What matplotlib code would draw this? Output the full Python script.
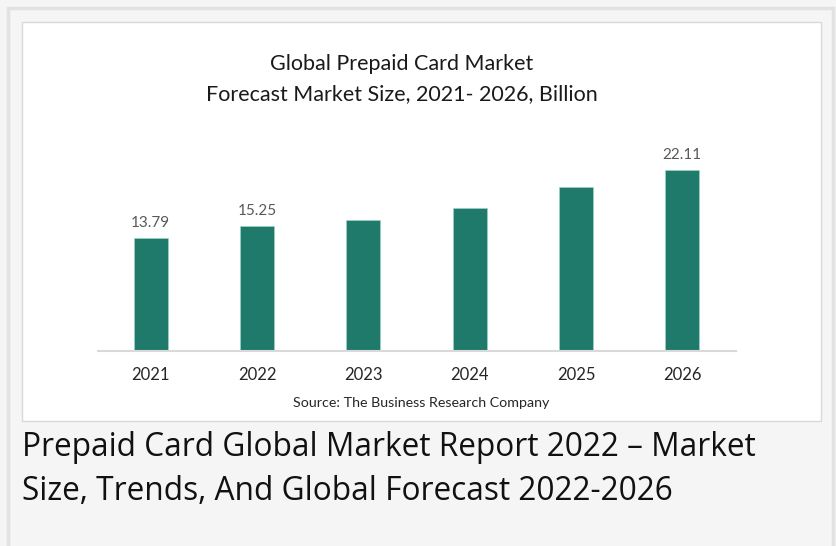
import matplotlib.pyplot as plt
from matplotlib.patches import Rectangle

# 数据
years = ['2021', '2022', '2023', '2024', '2025', '2026']
market_size = [13.79, 15.25, 15.95, 17.4, 20.05, 22.11]
shown_labels = ['13.79', '15.25', '', '', '', '22.11']

W, H = 836, 546
fig = plt.figure(figsize=(W / 100, H / 100), dpi=100)
fig.patch.set_facecolor('#f5f5f5')

# 外框和白色图表区域
fig.add_artist(Rectangle((8 / W, -0.01), (833 - 8) / W, 1 - 8 / H + 0.01,
                         transform=fig.transFigure, facecolor='none',
                         edgecolor='#e2e2e2', linewidth=2.5, zorder=-2))
fig.add_artist(Rectangle((22 / W, (H - 421) / H), (821 - 22) / W, (421 - 22) / H,
                         transform=fig.transFigure, facecolor='white',
                         edgecolor='#d9d9d9', linewidth=1, zorder=-1))

# 柱状图
px_per_unit = 8.17
ymax = 24.5
ax_left, ax_right, base_y = 97.6, 735.5, 350.6
ax = fig.add_axes([ax_left / W, (H - base_y) / H, (ax_right - ax_left) / W,
                   ymax * px_per_unit / H])
ax.set_facecolor('none')
x = range(len(years))
bars = ax.bar(x, market_size, width=0.32, color='#1f7a6c', edgecolor='#9fd3c7', linewidth=0.5)
ax.set_xlim(-0.5, len(years) - 0.5)
ax.set_ylim(0, ymax)
ax.bar_label(bars, labels=shown_labels, padding=6, fontsize=11, color='#595959', family='Lato')

ax.set_xticks(list(x))
ax.set_xticklabels(years, fontsize=12, color='#262626', family='Lato')
ax.tick_params(axis='x', length=0, pad=12)
ax.set_yticks([])
for side in ['top', 'right', 'left']:
    ax.spines[side].set_visible(False)
ax.spines['bottom'].set_color('#d9d9d9')
ax.spines['bottom'].set_linewidth(1.5)

# 标题
fig.text(402 / W, 1 - 64 / H, 'Global Prepaid Card Market', ha='center', va='center',
         fontsize=15.5, color='#1a1a1a', family='Lato')
fig.text(402 / W, 1 - 94 / H, 'Forecast Market Size, 2021- 2026, Billion', ha='center', va='center',
         fontsize=15.5, color='#1a1a1a', family='Lato')
fig.text(421 / W, 1 - 403 / H, 'Source: The Business Research Company', ha='center', va='center',
         fontsize=10.3, color='#262626', family='Lato')

# 下方说明文字
fig.text(22 / W, 1 - 448 / H, 'Prepaid Card Global Market Report 2022 – Market', ha='left', va='center',
         fontsize=22.8, color='#111111', family='Open Sans')
fig.text(22 / W, 1 - 492 / H, 'Size, Trends, And Global Forecast 2022-2026', ha='left', va='center',
         fontsize=22.8, color='#111111', family='Open Sans')

fig.savefig('out.png', dpi=100, facecolor=fig.get_facecolor())
